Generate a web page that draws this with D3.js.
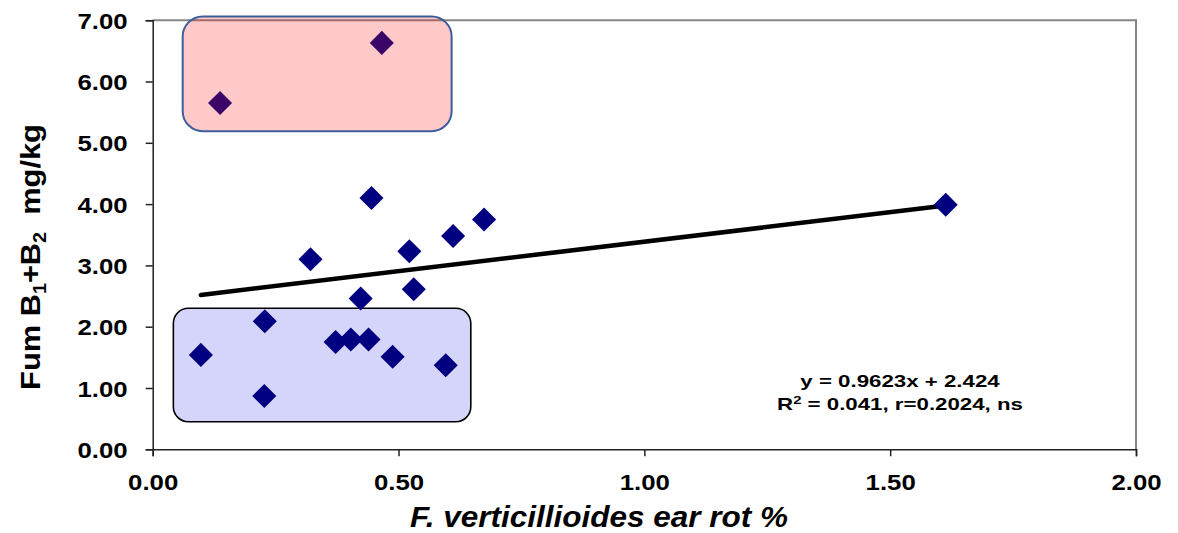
<!DOCTYPE html>
<html>
<head>
<meta charset="utf-8">
<script src="https://cdn.jsdelivr.net/npm/d3@7"></script>
<style>
  body { margin: 0; background: #fff; }
  svg text { font-family: "Liberation Sans", Arial, sans-serif; font-weight: bold; }
</style>
</head>
<body>
<svg id="chart" width="1178" height="533"></svg>
<script>
// data
const earRot = [0.098, 0.137, 0.228, 0.227, 0.321, 0.372, 0.403, 0.423, 0.439, 0.445, 0.466, 0.488, 0.522, 0.531, 0.596, 0.611, 0.674, 1.613];
const fumB1B2 = [1.54, 5.65, 2.09, 0.87, 3.10, 1.75, 1.79, 2.46, 1.79, 4.10, 6.63, 1.51, 3.23, 2.61, 1.37, 3.48, 3.75, 3.99];
const xTicks = [0, 0.5, 1, 1.5, 2];
const yTicks = [0, 1, 2, 3, 4, 5, 6, 7];
const slope = 0.9623, intercept = 2.424;
const eqLines = ["y = 0.9623x + 2.424", "R2 = 0.041, r=0.2024, ns"];
// highlight boxes in data units [x0, x1, y0, y1]
const highBox = [0.061, 0.608, 5.19, 7.06];
const lowBox = [0.042, 0.647, 0.45, 2.30];

const points = earRot.map((x, i) => ({ x, y: fumB1B2[i] }));

const svg = d3.select("#chart");
const x = d3.scaleLinear().domain([0, 2]).range([152.7, 1136]);
const y = d3.scaleLinear().domain([0, 7]).range([449.3, 20.2]);

// blue box behind the low points
svg.append("rect")
  .attr("x", x(lowBox[0]))
  .attr("y", y(lowBox[3]))
  .attr("width", x(lowBox[1]) - x(lowBox[0]))
  .attr("height", y(lowBox[2]) - y(lowBox[3]))
  .attr("rx", 15)
  .attr("fill", "#d5d5fc")
  .attr("stroke", "#000")
  .attr("stroke-width", 1.6);

// frame (top and right)
svg.append("path")
  .attr("d", `M${x(0)},${y(7)}H${x(2)}V${y(0)}`)
  .attr("fill", "none")
  .attr("stroke", "#858585")
  .attr("stroke-width", 2);

// axes
const xAxis = svg.append("g")
  .attr("transform", `translate(0,${y(0)})`)
  .call(d3.axisBottom(x).tickValues(xTicks).tickFormat(d3.format(".2f")).tickSizeOuter(0).tickSize(7));
xAxis.selectAll("text")
  .attr("y", 0).attr("dy", 0)
  .attr("transform", "translate(0,40.7) scale(1.2,1)")
  .attr("font-size", "21.5px")
  .attr("fill", "#000");

const yAxis = svg.append("g")
  .attr("transform", `translate(${x(0)},0)`)
  .call(d3.axisLeft(y).tickValues(yTicks).tickFormat(d3.format(".2f")).tickSizeOuter(0).tickSize(7));
yAxis.selectAll("text")
  .attr("x", 0).attr("dy", "8px")
  .attr("transform", "translate(-25,0) scale(1.2,1)")
  .attr("font-size", "21.5px")
  .attr("fill", "#000");

svg.selectAll(".domain, .tick line").attr("stroke", "#222").attr("stroke-width", 1.5);

// trend line over the x range of the data
const xExt = d3.extent(earRot);
svg.append("line")
  .attr("x1", x(xExt[0]))
  .attr("y1", y(slope * xExt[0] + intercept))
  .attr("x2", x(xExt[1]))
  .attr("y2", y(slope * xExt[1] + intercept))
  .attr("stroke", "#000")
  .attr("stroke-width", 4.5)
  .attr("stroke-linecap", "round");

// points
svg.append("g")
  .selectAll("path")
  .data(points)
  .enter().append("path")
  .attr("d", d3.symbol().type(d3.symbolSquare).size(290))
  .attr("transform", d => `translate(${x(d.x)},${y(d.y)}) rotate(45)`)
  .attr("fill", "#000080");

// pink box sits on top, see-through
svg.append("rect")
  .attr("x", x(highBox[0]))
  .attr("y", y(highBox[3]))
  .attr("width", x(highBox[1]) - x(highBox[0]))
  .attr("height", y(highBox[2]) - y(highBox[3]))
  .attr("rx", 20)
  .attr("fill", "rgba(255,20,20,0.23)")
  .attr("stroke", "#3b5e9a")
  .attr("stroke-width", 2);

// regression text
const eq = svg.append("g").attr("transform", "translate(900,0)");
eq.append("text")
  .attr("transform", "translate(0,386.7) scale(1.35,1)")
  .attr("text-anchor", "middle")
  .attr("font-size", "16.5px")
  .text(eqLines[0]);
const eq2 = eq.append("text")
  .attr("transform", "translate(0,410) scale(1.35,1)")
  .attr("text-anchor", "middle")
  .attr("font-size", "16.5px");
eq2.append("tspan").text("R");
eq2.append("tspan").attr("font-size", "11px").attr("dy", "-6").text("2");
eq2.append("tspan").attr("dy", "6").text(eqLines[1].slice(2));

// axis titles
svg.append("text")
  .attr("transform", "translate(599,527) scale(1.05,1)")
  .attr("text-anchor", "middle")
  .attr("font-size", "30px")
  .attr("font-style", "italic")
  .text("F. verticillioides ear rot %");

const yTitle = svg.append("text")
  .attr("transform", "translate(40,257) rotate(-90) scale(1.1,1)")
  .attr("text-anchor", "middle")
  .attr("font-size", "28px");
yTitle.append("tspan").text("Fum B");
yTitle.append("tspan").attr("font-size", "18px").attr("dy", "6").text("1");
yTitle.append("tspan").attr("dy", "-6").text("+B");
yTitle.append("tspan").attr("font-size", "18px").attr("dy", "6").text("2");
yTitle.append("tspan").attr("dy", "-6").attr("xml:space", "preserve").text("\u00a0 mg/kg");
</script>
</body>
</html>
